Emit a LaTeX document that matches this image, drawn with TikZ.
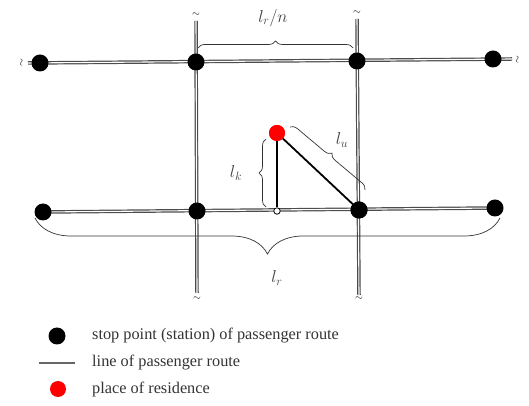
\documentclass[tikz,border=0pt]{standalone}
\usepackage{fontspec}
\setmainfont{Liberation Serif}
\usetikzlibrary{decorations.pathreplacing}
\begin{document}
\begin{tikzpicture}[x=1pt,y=1pt,
  route/.style={draw=black!70,double=white,double distance=1.1pt,line width=1.2pt},
  stop/.style={circle,fill=black,inner sep=0pt,minimum size=17pt},
  home/.style={circle,fill=red,inner sep=0pt,minimum size=16pt},
  foot/.style={circle,draw=black,fill=white,line width=0.8pt,inner sep=0pt,minimum size=6.5pt},
  brc/.style={draw=black!80,line width=0.7pt,decorate},
  lbl/.style={inner sep=0pt,font=\fontsize{16.5}{18}\selectfont,text=black!75},
  leg/.style={anchor=west,inner sep=0pt,font=\fontsize{16.3}{18}\selectfont,text=black!80},
  tl/.style={inner sep=0pt,font=\normalsize}]
\useasboundingbox (0,0) rectangle (529,406);
% end coordinates
\coordinate (tlE) at (28,343);
\coordinate (trE) at (512,347);
\coordinate (v1T) at (196,385);
\coordinate (v1B) at (197,113);
\coordinate (v2T) at (357,387);
\coordinate (v2B) at (359,111);
% tildes
\node[tl,rotate=90] (tL) at (22,343) {$\sim$};
\node[tl,rotate=90] (tR) at (518,346) {$\sim$};
\node[tl] (t1T) at (196,391) {$\sim$};
\node[tl] (t2T) at (357,393) {$\sim$};
\node[tl] (t1B) at (197,107) {$\sim$};
\node[tl] (t2B) at (359,107) {$\sim$};
% route lines
\draw[route] (v1T) -- (v1B);
\draw[route] (v2T) -- (v2B);
\draw[route] (tlE) -- (trE);
\draw[route] (43,194) -- (495,198);
% stops
\node[stop] (a1) at (40,343) {};
\node[stop] (a2) at (196,344) {};
\node[stop] (a3) at (357,345) {};
\node[stop] (a4) at (493,347) {};
\node[stop] (b1) at (43,194) {};
\node[stop] (b2) at (197,195) {};
\node[stop] (b3) at (359,196) {};
\node[stop] (b4) at (495,198) {};
% residence
\node[foot] (f) at (277,195) {};
\node[home] (r) at (277,273) {};
\draw[line width=1.6pt] (r.center) -- (f.north);
\draw[line width=1.8pt] (r.center) -- (b3.center);
\node[home] at (277,273) {};
\node[stop] at (359,196) {};
% braces
\draw[brc,decoration={brace,amplitude=7pt}] (198,358) -- (353,358);
\node[lbl] (lrn) at (273,388) {$l_r/n$};
\draw[brc,decoration={brace,amplitude=7pt}] (266,199) -- (266,267);
\node[lbl] (lk) at (236,233) {$l_k$};
\draw[brc,decoration={brace,amplitude=7pt}] (290,279) -- (365,216);
\node[lbl] (lu) at (342,266) {$l_u$};
\draw[brc,decoration={brace,amplitude=36pt}] (500,188) -- (35,188);
\node[lbl] (lr) at (277,128) {$l_r$};
% legend
\node[stop] (k1) at (57,70) {};
\node[leg] (k1t) at (92,70) {stop point (station) of passenger route};
\draw[draw=black!60,line width=1.6pt] (39,43) -- (75,43);
\node[leg] (k2t) at (92,43) {line of passenger route};
\node[home] (k3) at (58,17) {};
\node[leg] (k3t) at (92,17) {place of residence};
\end{tikzpicture}
\end{document}
